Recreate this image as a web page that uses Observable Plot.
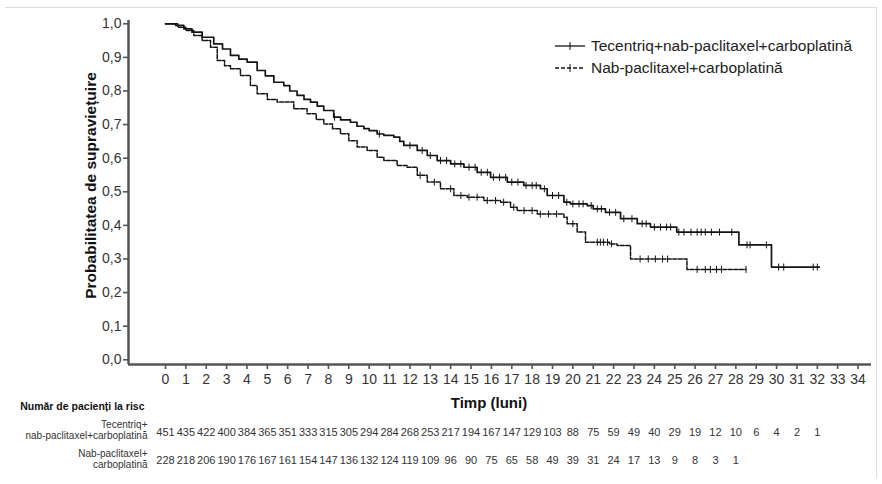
<!DOCTYPE html>
<html>
<head>
<meta charset="utf-8">
<script src="https://cdn.jsdelivr.net/npm/d3@7"></script>
<script src="https://cdn.jsdelivr.net/npm/@observablehq/plot@0.6"></script>
<style>
  html, body { margin: 0; padding: 0; background: #fff; }
  #wrap { position: relative; width: 882px; height: 484px; font-family: "Liberation Sans", Arial, sans-serif; }
  #border { position: absolute; left: 5px; top: 7px; width: 871px; height: 470px;
            border-top: 1px solid #dcdcdc; border-right: 1px solid #dcdcdc; pointer-events: none; }
  #legend { position: absolute; left: 554px; top: 35px; font-size: 15.5px; color: #222; line-height: 22px; }
  #legend div { display: flex; align-items: center; white-space: nowrap; }
  #legend svg { margin-right: 5px; }
</style>
</head>
<body>
<div id="wrap">
  <div id="chart"></div>
  <div id="border"></div>
  <div id="legend"></div>
</div>
<script>
// Series names
const seriesNames = ["Tecentriq+nab-paclitaxel+carboplatină", "Nab-paclitaxel+carboplatină"];

// Kaplan–Meier steps, Tecentriq + nab-paclitaxel + carboplatin (months, survival)
const tecTime = [0, 0.5, 0.9, 1.3, 1.8, 2.37, 2.8, 3.19, 3.6, 4.01, 4.5, 4.9, 5.32, 5.81, 6.1, 6.46, 6.8, 7.12, 7.45, 7.77, 8.26, 8.6, 9.08, 9.4, 9.74, 10.0, 10.39, 10.72, 11.21, 11.5, 11.7, 12.36, 12.85, 13.34, 14.0, 14.65, 15.3, 15.96, 16.78, 17.59, 18.41, 18.74, 19.56, 19.88, 20.7, 21.0, 21.6, 22.34, 23.16, 23.81, 25.1, 28.15, 29.75, 32.1];
const tecSurv = [1.0, 0.995, 0.985, 0.975, 0.96, 0.94, 0.925, 0.906, 0.895, 0.886, 0.861, 0.845, 0.826, 0.816, 0.80, 0.787, 0.775, 0.767, 0.755, 0.742, 0.722, 0.714, 0.707, 0.695, 0.688, 0.682, 0.672, 0.668, 0.663, 0.65, 0.638, 0.623, 0.608, 0.593, 0.583, 0.573, 0.558, 0.543, 0.529, 0.519, 0.509, 0.489, 0.469, 0.464, 0.459, 0.449, 0.439, 0.42, 0.405, 0.395, 0.38, 0.342, 0.276, 0.276];
const tecCensor = [8.3, 10.5, 12.0, 12.6, 13.0, 13.5, 13.8, 14.2, 14.5, 14.9, 15.2, 15.5, 15.8, 16.1, 16.4, 16.7, 17.0, 17.3, 17.7, 18.0, 18.2, 18.6, 19.0, 19.3, 19.7, 20.0, 20.3, 20.5, 20.9, 21.2, 21.4, 21.8, 22.1, 22.5, 22.9, 23.4, 23.6, 24.0, 24.3, 24.6, 24.8, 25.2, 25.45, 25.8, 26.1, 26.3, 26.5, 26.8, 27.2, 27.8, 28.55, 28.7, 29.5, 30.1, 30.35, 31.8, 32.0];

// Kaplan–Meier steps, nab-paclitaxel + carboplatin
const nabTime = [0, 0.6, 1.0, 1.39, 1.8, 2.21, 2.54, 2.9, 3.19, 3.68, 4.17, 4.5, 5.0, 5.48, 6.3, 6.95, 7.4, 7.77, 8.2, 8.59, 9.0, 9.41, 9.9, 10.39, 10.72, 11.37, 11.86, 12.36, 12.85, 13.5, 14.16, 14.81, 15.63, 16.45, 16.94, 17.26, 18.25, 19.56, 19.72, 20.21, 20.62, 21.8, 22.17, 22.83, 25.6, 28.5];
const nabSurv = [1.0, 0.99, 0.98, 0.965, 0.95, 0.93, 0.891, 0.875, 0.866, 0.846, 0.816, 0.792, 0.775, 0.767, 0.747, 0.732, 0.715, 0.702, 0.688, 0.673, 0.652, 0.633, 0.623, 0.603, 0.593, 0.578, 0.573, 0.549, 0.529, 0.509, 0.489, 0.484, 0.474, 0.469, 0.454, 0.444, 0.434, 0.424, 0.405, 0.38, 0.35, 0.345, 0.34, 0.30, 0.269, 0.269];
const nabCensor = [12.5, 13.2, 14.0, 14.5, 14.9, 15.3, 15.8, 16.2, 16.6, 17.1, 17.6, 18.0, 18.4, 18.8, 19.2, 20.0, 21.2, 21.35, 21.5, 21.7, 21.9, 23.3, 23.7, 24.05, 24.4, 24.65, 26.1, 26.5, 26.75, 27.05, 27.3, 28.5];

// Axis ticks
const xTicks = [0, 1, 2, 3, 4, 5, 6, 7, 8, 9, 10, 11, 12, 13, 14, 15, 16, 17, 18, 19, 20, 21, 22, 23, 24, 25, 26, 27, 28, 29, 30, 31, 32, 33, 34];
const yTicks = [0, 0.1, 0.2, 0.3, 0.4, 0.5, 0.6, 0.7, 0.8, 0.9, 1.0];

// Numbers at risk
const riskTitle = "Număr de pacienți la risc";
const riskLabelTec = ["Tecentriq+", "nab-paclitaxel+carboplatină"];
const riskLabelNab = ["Nab-paclitaxel+", "carboplatină"];
const riskTec = [451, 435, 422, 400, 384, 365, 351, 333, 315, 305, 294, 284, 268, 253, 217, 194, 167, 147, 129, 103, 88, 75, 59, 49, 40, 29, 19, 12, 10, 6, 4, 2, 1];
const riskNab = [228, 218, 206, 190, 176, 167, 161, 154, 147, 136, 132, 124, 119, 109, 96, 90, 75, 65, 58, 49, 39, 31, 24, 17, 13, 9, 8, 3, 1];

const xTitle = "Timp (luni)";
const yTitle = "Probabilitatea de supraviețuire";

// Build tables
const steps = (T, S) => T.map((t, i) => ({t, s: S[i]}));
const tecSteps = steps(tecTime, tecSurv);
const nabSteps = steps(nabTime, nabSurv);
const censorPoints = (C, T, S) => C.map(c => ({t: c, s: S[Math.max(0, d3.bisectRight(T, c) - 1)]}));
const tecMarks = censorPoints(tecCensor, tecTime, tecSurv);
const nabMarks = censorPoints(nabCensor, nabTime, nabSurv);
const riskRows = (R) => R.map((n, i) => ({month: xTicks[i], n}));

// Short vertical stroke used for censoring ticks
const vtick = {
  draw(ctx, size) {
    const r = Math.sqrt(size / Math.PI);
    ctx.moveTo(0, -r);
    ctx.lineTo(0, r);
  }
};

const xDomain = [-1.816, 34.66];
const yDomain = [-0.014, 1.0098];
const ink = "#141414";
const axisInk = "#555";
const fontFam = "'Liberation Sans', Arial, sans-serif";
const narrow = "'Liberation Sans Narrow', 'Liberation Sans', Arial, sans-serif";

const chart = Plot.plot({
  width: 882,
  height: 484,
  marginLeft: 128,
  marginRight: 11,
  marginTop: 20,
  marginBottom: 120,
  style: {fontFamily: fontFam, fontSize: "14px", color: "#333", background: "transparent"},
  x: {domain: xDomain},
  y: {domain: yDomain},
  marks: [
    Plot.axisX({ticks: xTicks, tickSize: 5, tickPadding: 5, label: null, stroke: axisInk, strokeWidth: 1.6, fontSize: 14}),
    Plot.axisY({ticks: yTicks, tickSize: 5, tickPadding: 2, label: null, stroke: axisInk, strokeWidth: 1.6, fontSize: 14,
                tickFormat: d => d.toFixed(1).replace(".", ",")}),
    Plot.ruleX([xDomain[0]], {stroke: axisInk, strokeWidth: 2.5}),
    Plot.ruleY([yDomain[0]], {stroke: axisInk, strokeWidth: 2.5}),

    // survival curves
    Plot.line(nabSteps, {x: "t", y: "s", curve: "step-after", stroke: ink, strokeWidth: 1.5, strokeDasharray: "4,1.5"}),
    Plot.line(tecSteps, {x: "t", y: "s", curve: "step-after", stroke: ink, strokeWidth: 1.7}),
    Plot.dot(nabMarks, {x: "t", y: "s", symbol: vtick, r: 3.5, fill: "none", stroke: ink, strokeWidth: 1}),
    Plot.dot(tecMarks, {x: "t", y: "s", symbol: vtick, r: 3.5, fill: "none", stroke: ink, strokeWidth: 1}),

    // axis titles
    Plot.text([xTitle], {frameAnchor: "bottom", dx: -11, dy: 43, fontSize: 15, fontWeight: "bold", fill: "#111"}),
    Plot.text([yTitle], {frameAnchor: "left", textAnchor: "middle", dx: -37, dy: -7, rotate: -90, fontSize: 15.5, fontWeight: "bold", fill: "#111"}),

    // numbers at risk
    Plot.text([riskTitle], {frameAnchor: "bottom-left", textAnchor: "end", dx: 16, dy: 45, fontSize: 10.5, fontWeight: "bold", fill: "#111"}),
    Plot.text([riskLabelTec[0]], {frameAnchor: "bottom-left", textAnchor: "end", dx: 19, dy: 63, fontSize: 10, fill: "#333"}),
    Plot.text([riskLabelTec[1]], {frameAnchor: "bottom-left", textAnchor: "end", dx: 19, dy: 74, fontSize: 10, fill: "#333"}),
    Plot.text([riskLabelNab[0]], {frameAnchor: "bottom-left", textAnchor: "end", dx: 19, dy: 92, fontSize: 10, fill: "#333"}),
    Plot.text([riskLabelNab[1]], {frameAnchor: "bottom-left", textAnchor: "end", dx: 19, dy: 103, fontSize: 10, fill: "#333"}),
    Plot.text(riskRows(riskTec), {x: "month", text: "n", frameAnchor: "bottom", dy: 71, fontSize: 11, fontFamily: narrow, fill: "#333"}),
    Plot.text(riskRows(riskNab), {x: "month", text: "n", frameAnchor: "bottom", dy: 99, fontSize: 11, fontFamily: narrow, fill: "#333"})
  ]
});
document.getElementById("chart").appendChild(chart);

// legend
const legend = d3.select("#legend");
[{name: seriesNames[0], dash: null}, {name: seriesNames[1], dash: "4,2"}].forEach(d => {
  const row = legend.append("div");
  const s = row.append("svg").attr("width", 32).attr("height", 10);
  s.append("line").attr("x1", 1).attr("x2", 31).attr("y1", 5).attr("y2", 5)
    .attr("stroke", ink).attr("stroke-width", 1.3).attr("stroke-dasharray", d.dash);
  s.append("line").attr("x1", 16).attr("x2", 16).attr("y1", 1).attr("y2", 9)
    .attr("stroke", ink).attr("stroke-width", 1);
  row.append("span").text(d.name);
});
</script>
</body>
</html>
